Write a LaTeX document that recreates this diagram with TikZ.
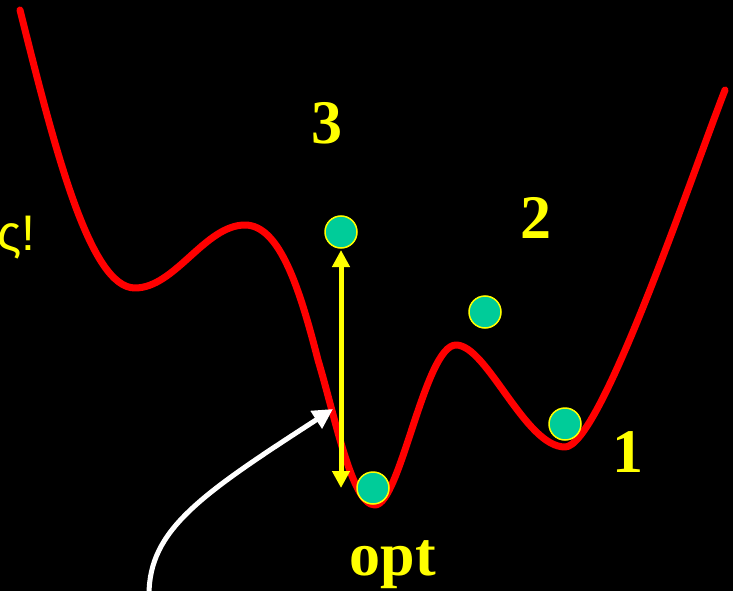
\documentclass[tikz,border=0pt]{standalone}
\usepackage{fontspec}
\setmainfont{Liberation Serif}
\newfontfamily\sansgr{Liberation Sans}
\usetikzlibrary{arrows.meta}
\definecolor{ballgreen}{RGB}{0,204,153}
\definecolor{lblyellow}{RGB}{255,255,0}
\begin{document}
\begin{tikzpicture}[x=1pt,y=-1pt,
  curve/.style={red,line width=7pt,line cap=round,line join=round},
  ball/.style={circle,fill=ballgreen,draw=lblyellow,line width=1.5pt,minimum size=32pt,inner sep=0pt},
  lbl/.style={text=lblyellow,font=\fontsize{62}{62}\selectfont\bfseries,inner sep=0pt,anchor=base},
  yarrow/.style={lblyellow,line width=5pt,{Triangle[length=17pt,width=17pt]}-{Triangle[length=17pt,width=17pt]},shorten <=0pt,shorten >=0pt},
  warrow/.style={white,line width=5pt,-{Triangle[length=20pt,width=20pt]}}]
\fill[black] (0,0) rectangle (733,591);
\useasboundingbox (0,0) rectangle (733,591);
% curve
\draw[curve] (20,10) .. controls (55,150) and (90,288) .. (135,288)
  .. controls (175,288) and (205,225) .. (245,225)
  .. controls (280,225) and (300,290) .. (318,360)
  .. controls (336,420) and (352,505) .. (375,505)
  .. controls (400,505) and (425,345) .. (456,345)
  .. controls (487,345) and (525,447) .. (565,447)
  .. controls (600,447) and (690,180) .. (725,90);
% balls
\node[ball] (b3) at (341,232) {};
\node[ball] (b2) at (485,312) {};
\node[ball] (b1) at (565,424) {};
\node[ball] (bo) at (373,488) {};
% yellow double arrow
\coordinate (ytop) at (341,250);
\coordinate (ybot) at (341,488);
\draw[yarrow] (ytop) -- (ybot);
% white arrow
\coordinate (wstart) at (149,595);
\coordinate (wend) at (333,409);
\draw[warrow] (wstart) .. controls (149,530) and (200,495) .. (wend);
% labels
\node[lbl] (l3) at (327,143) {3};
\node[lbl] (l2) at (536,238) {2};
\node[lbl] (l1) at (628,472) {1};
\node[lbl] (lopt) at (393,575) {opt};
\node[text=lblyellow,font=\sansgr\fontsize{50}{50}\selectfont,inner sep=0pt,anchor=base west] (sig) at (-3,250) {ς!};
\end{tikzpicture}
\end{document}
